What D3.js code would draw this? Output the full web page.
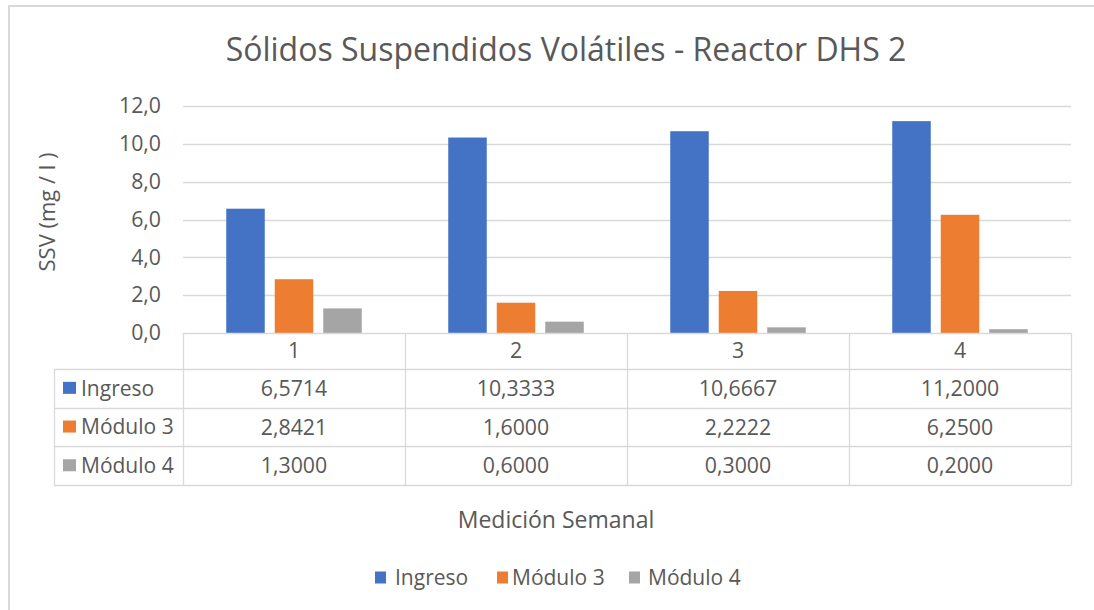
<!DOCTYPE html>
<html>
<head>
<meta charset="utf-8">
<script src="https://cdn.jsdelivr.net/npm/d3@7"></script>
<style>
  html, body { margin: 0; padding: 0; background: #fff; }
  svg { display: block; font-family: "Open Sans", "Noto Sans", sans-serif; }
</style>
</head>
<body>
<svg id="chart" width="1094" height="610"></svg>
<script>
// ---- Data ----
const categories = ["1", "2", "3", "4"];
const seriesNames = ["Ingreso", "Módulo 3", "Módulo 4"];
const ingreso = [6.5714, 10.3333, 10.6667, 11.2000];
const modulo3 = [2.8421, 1.6000, 2.2222, 6.2500];
const modulo4 = [1.3000, 0.6000, 0.3000, 0.2000];
const yTicks = [0, 2, 4, 6, 8, 10, 12];
const seriesColors = ["#4472C4", "#ED7D31", "#A5A5A5"];
const title = "Sólidos Suspendidos Volátiles - Reactor DHS 2";
const yTitle = "SSV (mg / l )";
const xTitle = "Medición Semanal";

const seriesValues = [ingreso, modulo3, modulo4];
const series = seriesNames.map((n, i) => ({ name: n, color: seriesColors[i], values: seriesValues[i] }));

const fmtTick = v => d3.format(".1f")(v).replace(".", ",");
const fmtVal = v => d3.format(".4f")(v).replace(".", ",");

const svg = d3.select("#chart");
const textColor = "#595959";
const lineColor = "#D9D9D9";

// outer chart border (left + top visible)
svg.append("path")
  .attr("d", "M9,610 L9,6 L1094,6")
  .attr("fill", "none").attr("stroke", lineColor).attr("stroke-width", 2);

// ---- Scales ----
const plotLeft = 183, plotRight = 1071, plotTop = 106, plotBottom = 333;
const x0 = d3.scaleBand().domain(categories).range([plotLeft, plotRight]).padding(0);
const xs = d3.scaleBand().domain(seriesNames).range([0, x0.bandwidth()])
  .paddingInner(0.206).paddingOuter(0.8916);
const y = d3.scaleLinear().domain([0, 12]).range([plotBottom, plotTop]);

// title
svg.append("text")
  .attr("x", 566).attr("y", 61)
  .attr("text-anchor", "middle")
  .attr("fill", textColor)
  .style("font-size", "32px")
  .text(title);

// gridlines
svg.append("g").selectAll("line").data(yTicks.filter(t => t > 0)).join("line")
  .attr("x1", plotLeft).attr("x2", plotRight)
  .attr("y1", d => Math.round(y(d)) + 0.5).attr("y2", d => Math.round(y(d)) + 0.5)
  .attr("stroke", lineColor).attr("stroke-width", 1.3);

// y axis labels
const yAxis = d3.axisLeft(y).tickValues(yTicks).tickFormat(fmtTick).tickSize(0).tickPadding(0);
const yg = svg.append("g").attr("transform", `translate(161,0)`).call(yAxis);
yg.select(".domain").remove();
yg.selectAll("text")
  .attr("fill", textColor)
  .style("font-size", "21.3px")
  .style("font-family", "'Open Sans', sans-serif");

// y title
svg.append("text")
  .attr("transform", "translate(55,212) rotate(-90)")
  .attr("text-anchor", "middle")
  .attr("fill", textColor)
  .style("font-size", "22px")
  .text(yTitle);

// bars
const gBars = svg.append("g");
categories.forEach((c, ci) => {
  gBars.selectAll(null).data(series).join("rect")
    .attr("x", d => x0(c) + xs(d.name))
    .attr("width", xs.bandwidth())
    .attr("y", d => y(d.values[ci]))
    .attr("height", d => y(0) - y(d.values[ci]))
    .attr("fill", d => d.color);
});

// ---- Data table ----
const headerBottom = 369;
const rowH = 38.7;
const tableLeft = 54;
const tableBottom = headerBottom + rowH * series.length;
const tg = svg.append("g");

// horizontal lines
tg.append("line").attr("x1", plotLeft).attr("x2", plotRight)
  .attr("y1", plotBottom + 0.5).attr("y2", plotBottom + 0.5)
  .attr("stroke", lineColor).attr("stroke-width", 1.3);
d3.range(series.length + 1).forEach(i => {
  const yy = Math.round(headerBottom + i * rowH) + 0.5;
  tg.append("line").attr("x1", tableLeft).attr("x2", plotRight)
    .attr("y1", yy).attr("y2", yy)
    .attr("stroke", lineColor).attr("stroke-width", 1.3);
});
// vertical lines
const vx = categories.map(c => x0(c)).concat([plotRight]);
vx.forEach(xx => {
  tg.append("line").attr("x1", Math.round(xx) + 0.5).attr("x2", Math.round(xx) + 0.5)
    .attr("y1", plotBottom).attr("y2", Math.round(tableBottom) + 0.5)
    .attr("stroke", lineColor).attr("stroke-width", 1.3);
});
tg.append("line").attr("x1", tableLeft + 0.5).attr("x2", tableLeft + 0.5)
  .attr("y1", headerBottom).attr("y2", Math.round(tableBottom) + 0.5)
  .attr("stroke", lineColor).attr("stroke-width", 1.3);

// header category labels
tg.selectAll(null).data(categories).join("text")
  .attr("x", d => x0(d) + x0.bandwidth() / 2)
  .attr("y", (plotBottom + headerBottom) / 2)
  .attr("dy", "0.35em")
  .attr("text-anchor", "middle")
  .attr("fill", textColor)
  .style("font-size", "21.3px")
  .text(d => d);

// rows
series.forEach((s, si) => {
  const cy = headerBottom + rowH * si + rowH / 2;
  tg.append("rect").attr("x", 63).attr("y", cy - 6.5).attr("width", 13).attr("height", 12)
    .attr("fill", s.color);
  tg.append("text").attr("x", 81).attr("y", cy).attr("dy", "0.35em")
    .attr("fill", textColor).style("font-size", "21px").text(s.name);
  tg.selectAll(null).data(s.values).join("text")
    .attr("x", (d, i) => x0(categories[i]) + x0.bandwidth() / 2)
    .attr("y", cy).attr("dy", "0.35em")
    .attr("text-anchor", "middle")
    .attr("fill", textColor)
    .style("font-size", "21.3px")
    .text(d => fmtVal(d));
});

// x title
svg.append("text")
  .attr("x", 556).attr("y", 528)
  .attr("text-anchor", "middle")
  .attr("fill", textColor)
  .style("font-size", "23px")
  .text(xTitle);

// legend
const legendPos = [
  { sx: 375, tx: 395 }, { sx: 497, tx: 512 }, { sx: 629, tx: 648 }
];
const lg = svg.append("g");
series.forEach((s, i) => {
  const p = legendPos[i];
  lg.append("rect").attr("x", p.sx).attr("y", 571.5).attr("width", 11).attr("height", 12).attr("fill", s.color);
  lg.append("text").attr("x", p.tx).attr("y", 584.5)
    .attr("fill", textColor).style("font-size", "21px").text(s.name);
});
</script>
</body>
</html>
